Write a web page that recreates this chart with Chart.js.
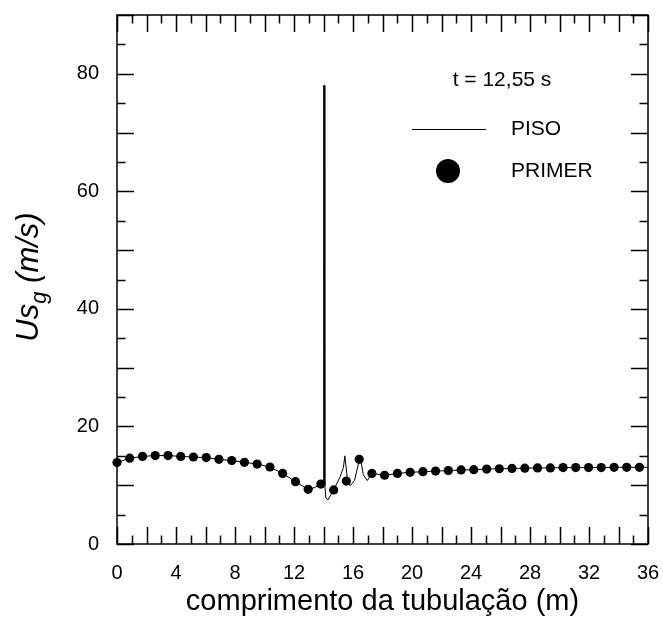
<!DOCTYPE html>
<html>
<head>
<meta charset="utf-8">
<script src="https://cdn.jsdelivr.net/npm/chart.js@4.4.1/dist/chart.umd.min.js"></script>
<style>
  html, body { margin: 0; padding: 0; background: #fff; }
  #wrap { width: 663px; height: 619px; }
</style>
</head>
<body>
<div id="wrap"><canvas id="chart" width="663" height="619"></canvas></div>
<script>
// --- DATOS ---
const primerX = [0, 0.86, 1.73, 2.59, 3.46, 4.32, 5.18, 6.05, 6.91, 7.78, 8.64, 9.5, 10.37, 11.23, 12.1, 12.96,
  13.82, 14.69, 15.55, 16.42, 17.28, 18.14, 19.01, 19.87, 20.74, 21.6, 22.46, 23.33, 24.19, 25.06, 25.92,
  26.78, 27.65, 28.51, 29.38, 30.24, 31.1, 31.97, 32.83, 33.7, 34.56, 35.42];
const primerY = [13.85, 14.6, 14.9, 15.05, 15.05, 14.9, 14.8, 14.7, 14.4, 14.2, 13.9, 13.6, 13.1, 12.0, 10.6, 9.3,
  10.2, 9.2, 10.7, 14.4, 12.0, 11.7, 12.0, 12.2, 12.3, 12.4, 12.5, 12.6, 12.65, 12.75, 12.8,
  12.85, 12.9, 12.95, 12.95, 13.0, 13.0, 13.0, 13.0, 13.05, 13.05, 13.05];

const pisoX = [0, 0.86, 1.73, 2.59, 3.46, 4.32, 5.18, 6.05, 6.91, 7.78, 8.64, 9.5, 10.37, 11.23, 12.1, 12.96,
  13.4, 13.82, 13.98, 14.01, 14.06, 14.09, 14.16, 14.3, 14.69, 15.1, 15.35, 15.45, 15.6, 15.8, 16.1, 16.4, 16.5,
  16.7, 16.97, 17.28, 18.14, 19.01, 19.87, 20.74, 21.6, 22.46, 23.33, 24.19, 25.06, 25.92,
  26.78, 27.65, 28.51, 29.38, 30.24, 31.1, 31.97, 32.83, 33.7, 34.56, 35.42, 36];
const pisoY = [13.85, 14.6, 14.9, 15.05, 15.05, 14.9, 14.8, 14.7, 14.4, 14.2, 13.9, 13.6, 13.1, 12.0, 10.6, 9.3,
  9.6, 10.2, 10.5, 78, 78, 10.0, 7.8, 7.5, 9.2, 11.3, 13.0, 15.0, 11.5, 9.9, 10.8, 14.0, 14.6,
  11.8, 10.8, 12.0, 11.7, 12.0, 12.2, 12.3, 12.4, 12.5, 12.6, 12.65, 12.75, 12.8,
  12.85, 12.9, 12.95, 12.95, 13.0, 13.0, 13.0, 13.0, 13.05, 13.05, 13.05, 13.05];

const xTicks = [0, 4, 8, 12, 16, 20, 24, 28, 32, 36];
const yTicks = [0, 20, 40, 60, 80];
const timeLabel = 't = 12,55 s';
const seriesNames = ['PISO', 'PRIMER'];

const FONT = "'Liberation Sans', Arial, sans-serif";

// --- PLUGIN: marco con ticks hacia adentro, leyenda y título Y ---
const framePlugin = {
  id: 'frame',
  afterDraw(chart) {
    const { ctx, chartArea: a, scales: { x, y } } = chart;
    ctx.save();
    ctx.strokeStyle = '#000';
    ctx.lineWidth = 1.5;
    ctx.strokeRect(a.left, a.top, a.right - a.left, a.bottom - a.top);

    ctx.beginPath();
    for (let v = x.min; v <= x.max; v += 1) {
      const px = Math.round(x.getPixelForValue(v)) + 0.5;
      const len = v % 2 === 0 ? 17 : 8.5;
      ctx.moveTo(px, a.bottom); ctx.lineTo(px, a.bottom - len);
      ctx.moveTo(px, a.top); ctx.lineTo(px, a.top + len);
    }
    for (let v = y.min; v <= y.max; v += 5) {
      const py = Math.round(y.getPixelForValue(v)) + 0.5;
      const len = v % 10 === 0 ? 17 : 8.5;
      ctx.moveTo(a.left, py); ctx.lineTo(a.left + len, py);
      ctx.moveTo(a.right, py); ctx.lineTo(a.right - len, py);
    }
    ctx.stroke();

    // leyenda
    ctx.fillStyle = '#000';
    ctx.font = '21px ' + FONT;
    ctx.textBaseline = 'middle';
    ctx.textAlign = 'center';
    ctx.fillText(timeLabel, 502, 80);
    ctx.textAlign = 'left';
    ctx.lineWidth = 1;
    ctx.beginPath();
    ctx.moveTo(412, 129.5); ctx.lineTo(486, 129.5);
    ctx.stroke();
    ctx.fillText(seriesNames[0], 511, 129);
    ctx.beginPath();
    ctx.arc(448, 171, 12, 0, Math.PI * 2);
    ctx.fill();
    ctx.fillText(seriesNames[1], 511, 171);

    // título eje Y con subíndice
    ctx.translate(38, 277);
    ctx.rotate(-Math.PI / 2);
    const big = 'italic 31px ' + FONT;
    const small = 'italic 22px ' + FONT;
    ctx.font = big; const w1 = ctx.measureText('Us').width;
    ctx.font = small; const w2 = ctx.measureText('g').width;
    ctx.font = big; const w3 = ctx.measureText(' (m/s)').width;
    let cx = -(w1 + w2 + w3) / 2;
    ctx.textBaseline = 'alphabetic';
    ctx.font = big; ctx.fillText('Us', cx, 0); cx += w1;
    ctx.font = small; ctx.fillText('g', cx, 8); cx += w2;
    ctx.font = big; ctx.fillText(' (m/s)', cx, 0);
    ctx.restore();
  }
};

new Chart(document.getElementById('chart'), {
  type: 'scatter',
  data: {
    datasets: [
      {
        label: seriesNames[0],
        data: pisoX.map((v, i) => ({ x: v, y: pisoY[i] })),
        showLine: true,
        borderColor: '#000',
        borderWidth: 1,
        pointRadius: 0,
        tension: 0,
        clip: false,
        order: 2
      },
      {
        label: seriesNames[1],
        data: primerX.map((v, i) => ({ x: v, y: primerY[i] })),
        showLine: false,
        backgroundColor: '#000',
        borderWidth: 0,
        pointRadius: 4.6,
        clip: false,
        order: 1
      }
    ]
  },
  options: {
    responsive: false,
    animation: false,
    layout: { padding: { left: 0, top: 15, right: 15, bottom: 0 } },
    plugins: { legend: { display: false }, tooltip: { enabled: false } },
    scales: {
      x: {
        type: 'linear', min: 0, max: 36,
        afterBuildTicks: s => { s.ticks = xTicks.map(v => ({ value: v })); },
        afterFit: s => { s.height = 75; s.paddingLeft = 0; s.paddingRight = 0; },
        grid: { display: false, drawTicks: false },
        border: { display: false },
        ticks: { color: '#000', font: { family: FONT, size: 20 }, padding: 17, maxRotation: 0 },
        title: { display: true, text: 'comprimento da tubulação (m)', color: '#000', font: { family: FONT, size: 29 }, padding: 0 }
      },
      y: {
        type: 'linear', min: 0, max: 90,
        afterBuildTicks: s => { s.ticks = yTicks.map(v => ({ value: v })); },
        afterFit: s => { s.width = 117; s.paddingTop = 0; s.paddingBottom = 0; },
        grid: { display: false, drawTicks: false },
        border: { display: false },
        ticks: { color: '#000', font: { family: FONT, size: 20 }, padding: 18 }
      }
    }
  },
  plugins: [framePlugin]
});
</script>
</body>
</html>
